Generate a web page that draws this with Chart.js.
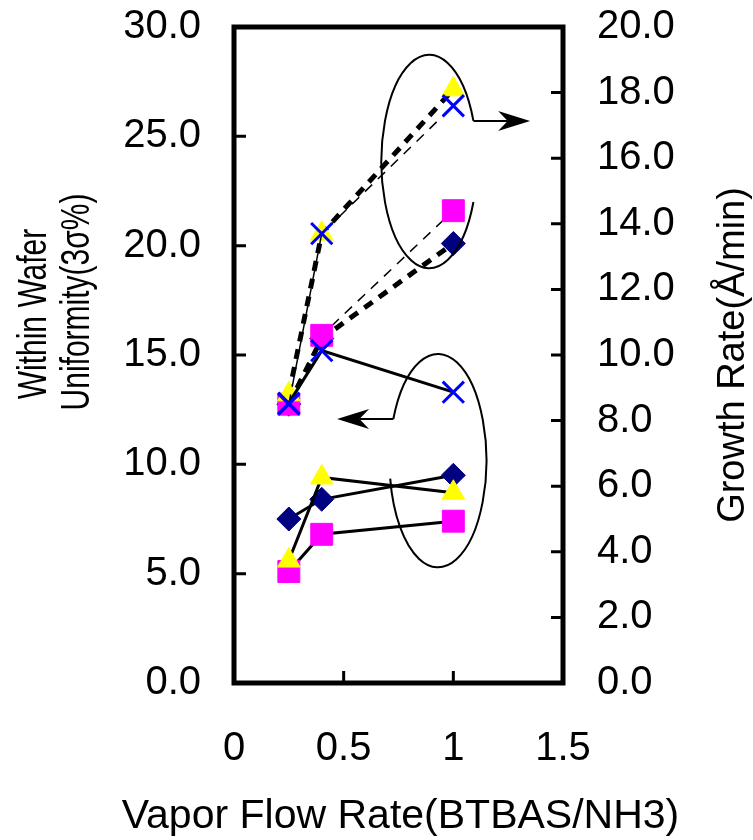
<!DOCTYPE html>
<html>
<head>
<meta charset="utf-8">
<script src="https://cdn.jsdelivr.net/npm/chart.js@4.4.0/dist/chart.umd.min.js"></script>
<style>
html, body { margin: 0; padding: 0; background: #fff; }
</style>
</head>
<body>
<canvas id="chart" width="753" height="840"></canvas>
<script>
// vapor flow rate (BTBAS/NH3)
var flowRates = [0.25, 0.4, 1.0];
var xTicks = [0, 0.5, 1, 1.5];

// within wafer uniformity, 3 sigma % (left axis)
var uniDiamond = [7.5, 8.4, 9.5];
var uniSquare = [5.1, 6.8, 7.4];
var uniTriangle = [5.6, 9.4, 8.7];
var uniCross = [12.8, 15.2, 13.3];

// growth rate, A/min (right axis)
var grDiamond = [8.5, 10.5, 13.4];
var grSquare = [8.5, 10.6, 14.4];
var grTriangle = [8.8, 13.7, 18.1];
var grCross = [8.5, 13.7, 17.6];

// ellipse + arrow callouts, in axis units (x, left y)
var callouts = [
    { cx: 0.89, cy: 23.85, rx: 0.218, ry: 4.88, a0: 0.39, a1: 2 * Math.PI - 0.39, from: 'end', tipX: 1.35 },
    { cx: 0.93, cy: 10.17, rx: 0.221, ry: 4.88, a0: Math.PI + 0.40, a1: 3 * Math.PI - 0.17, from: 'start', tipX: 0.47 }
];

var FONT = "'Liberation Sans', Arial, Helvetica, sans-serif";
Chart.defaults.font.family = FONT;
Chart.defaults.color = '#000';

function pts(ys) {
    return flowRates.map(function (x, i) { return { x: x, y: ys[i] }; });
}

var marker = {
    diamond: { pointStyle: 'rectRot', radius: 12, color: '#000080', bw: 1 },
    square: { pointStyle: 'rect', radius: 15.5, color: '#ff00ff', bw: 1 },
    triangle: { pointStyle: 'triangle', radius: 13, color: '#ffff00', bw: 1 },
    cross: { pointStyle: 'crossRot', radius: 15, color: '#0000ff', bw: 3 }
};

function series(label, ys, axis, m, dash, width, order) {
    return {
        label: label,
        data: pts(ys),
        yAxisID: axis,
        showLine: true,
        borderColor: '#000',
        borderWidth: width,
        borderDash: dash,
        pointStyle: m.pointStyle,
        pointRadius: m.radius,
        pointHoverRadius: m.radius,
        pointBackgroundColor: m.color,
        pointBorderColor: m.color,
        pointBorderWidth: m.bw,
        order: order
    };
}

var thick = [10, 8];
var thin = [10, 8];

function noPad(s) {
    s.paddingTop = 0;
    s.paddingBottom = 0;
    s.paddingLeft = 0;
    s.paddingRight = 0;
}

var extras = {
    id: 'extras',
    afterDraw: function (chart) {
        var ctx = chart.ctx;
        var a = chart.chartArea;
        var xs = chart.scales.x, ys = chart.scales.y, y1 = chart.scales.y1;
        ctx.save();
        ctx.strokeStyle = '#000';
        ctx.fillStyle = '#000';

        // callouts
        ctx.lineWidth = 2;
        callouts.forEach(function (c) {
            var cx = xs.getPixelForValue(c.cx), cy = ys.getPixelForValue(c.cy);
            var rx = xs.getPixelForValue(c.cx + c.rx) - cx;
            var ry = ys.getPixelForValue(c.cy - c.ry) - cy;
            ctx.beginPath();
            ctx.ellipse(cx, cy, rx, ry, 0, c.a0, c.a1, false);
            ctx.stroke();
            var ang = c.from === 'end' ? c.a1 : c.a0;
            var sx = cx + rx * Math.cos(ang), sy = cy + ry * Math.sin(ang);
            var tx = xs.getPixelForValue(c.tipX);
            var dir = tx > sx ? 1 : -1;
            var L = 32, W = 10;
            ctx.beginPath();
            ctx.moveTo(sx, sy);
            ctx.lineTo(tx - dir * L * 0.7, sy);
            ctx.stroke();
            ctx.beginPath();
            ctx.moveTo(tx, sy);
            ctx.lineTo(tx - dir * L, sy - W);
            ctx.lineTo(tx - dir * L * 0.7, sy);
            ctx.lineTo(tx - dir * L, sy + W);
            ctx.closePath();
            ctx.fill();
        });

        // inward tick marks
        ctx.lineWidth = 3;
        ctx.beginPath();
        ys.ticks.forEach(function (t) {
            var p = ys.getPixelForValue(t.value);
            ctx.moveTo(a.left, p); ctx.lineTo(a.left + 12, p);
        });
        y1.ticks.forEach(function (t) {
            var p = y1.getPixelForValue(t.value);
            ctx.moveTo(a.right, p); ctx.lineTo(a.right - 12, p);
        });
        xs.ticks.forEach(function (t) {
            var p = xs.getPixelForValue(t.value);
            ctx.moveTo(p, a.bottom); ctx.lineTo(p, a.bottom - 12);
        });
        ctx.stroke();

        // frame
        ctx.lineWidth = 5;
        ctx.strokeRect(a.left, a.top, a.right - a.left, a.bottom - a.top);

        // axis titles
        ctx.textAlign = 'center';
        ctx.textBaseline = 'middle';
        ctx.font = '41px ' + FONT;
        ctx.fillText('Vapor Flow Rate(BTBAS/NH3)', (a.left + a.right) / 2 + 2, 817);

        ctx.textBaseline = 'alphabetic';
        // [text, baseline x, centre y, font px, glyph stretch]
        [['Within Wafer', 46, 314, 30, 1.35],
         ['Uniformity(3σ%)', 89, 302, 30, 1.35],
         ['Growth Rate(Å/min)', 744, 355, 38, 1]].forEach(function (t) {
            ctx.save();
            ctx.font = t[3] + 'px ' + FONT;
            ctx.translate(t[1], t[2]);
            ctx.rotate(-Math.PI / 2);
            ctx.scale(1, t[4]);
            ctx.fillText(t[0], 0, 0);
            ctx.restore();
        });
        ctx.restore();
    }
};

var ctx = document.getElementById('chart').getContext('2d');
var chart = new Chart(ctx, {
    type: 'scatter',
    data: {
        datasets: [
            series('Uniformity X', uniCross, 'y', marker.cross, [], 3, 1),
            series('Growth X', grCross, 'y1', marker.cross, thin, 1.5, 2),
            series('Uniformity triangle', uniTriangle, 'y', marker.triangle, [], 3, 3),
            series('Growth triangle', grTriangle, 'y1', marker.triangle, thick, 5, 4),
            series('Uniformity square', uniSquare, 'y', marker.square, [], 3, 5),
            series('Growth square', grSquare, 'y1', marker.square, thin, 1.5, 6),
            series('Uniformity diamond', uniDiamond, 'y', marker.diamond, [], 3, 7),
            series('Growth diamond', grDiamond, 'y1', marker.diamond, thick, 5, 8)
        ]
    },
    options: {
        responsive: false,
        animation: false,
        layout: { padding: { top: 27, left: 0, right: 0, bottom: 0 } },
        plugins: {
            legend: { display: false },
            tooltip: { enabled: false }
        },
        scales: {
            x: {
                type: 'linear',
                min: 0,
                max: 1.5,
                afterBuildTicks: function (s) {
                    s.ticks = xTicks.map(function (v) { return { value: v }; });
                },
                afterFit: function (s) { noPad(s); s.height = 157; },
                grid: { display: false },
                border: { display: false },
                ticks: {
                    font: { size: 40 },
                    padding: 34,
                    autoSkip: false,
                    maxRotation: 0,
                    callback: function (v) { return String(v); }
                }
            },
            y: {
                position: 'left',
                min: 0,
                max: 30,
                afterFit: function (s) { noPad(s); s.width = 234; },
                grid: { display: false },
                border: { display: false },
                ticks: {
                    stepSize: 5,
                    autoSkip: false,
                    font: { size: 40 },
                    padding: 25,
                    callback: function (v) { return v.toFixed(1); }
                }
            },
            y1: {
                position: 'right',
                min: 0,
                max: 20,
                afterFit: function (s) { noPad(s); s.width = 190; },
                grid: { display: false },
                border: { display: false },
                ticks: {
                    stepSize: 2,
                    autoSkip: false,
                    font: { size: 40 },
                    padding: 26,
                    callback: function (v) { return v.toFixed(1); }
                }
            }
        }
    },
    plugins: [extras]
});
</script>
</body>
</html>
